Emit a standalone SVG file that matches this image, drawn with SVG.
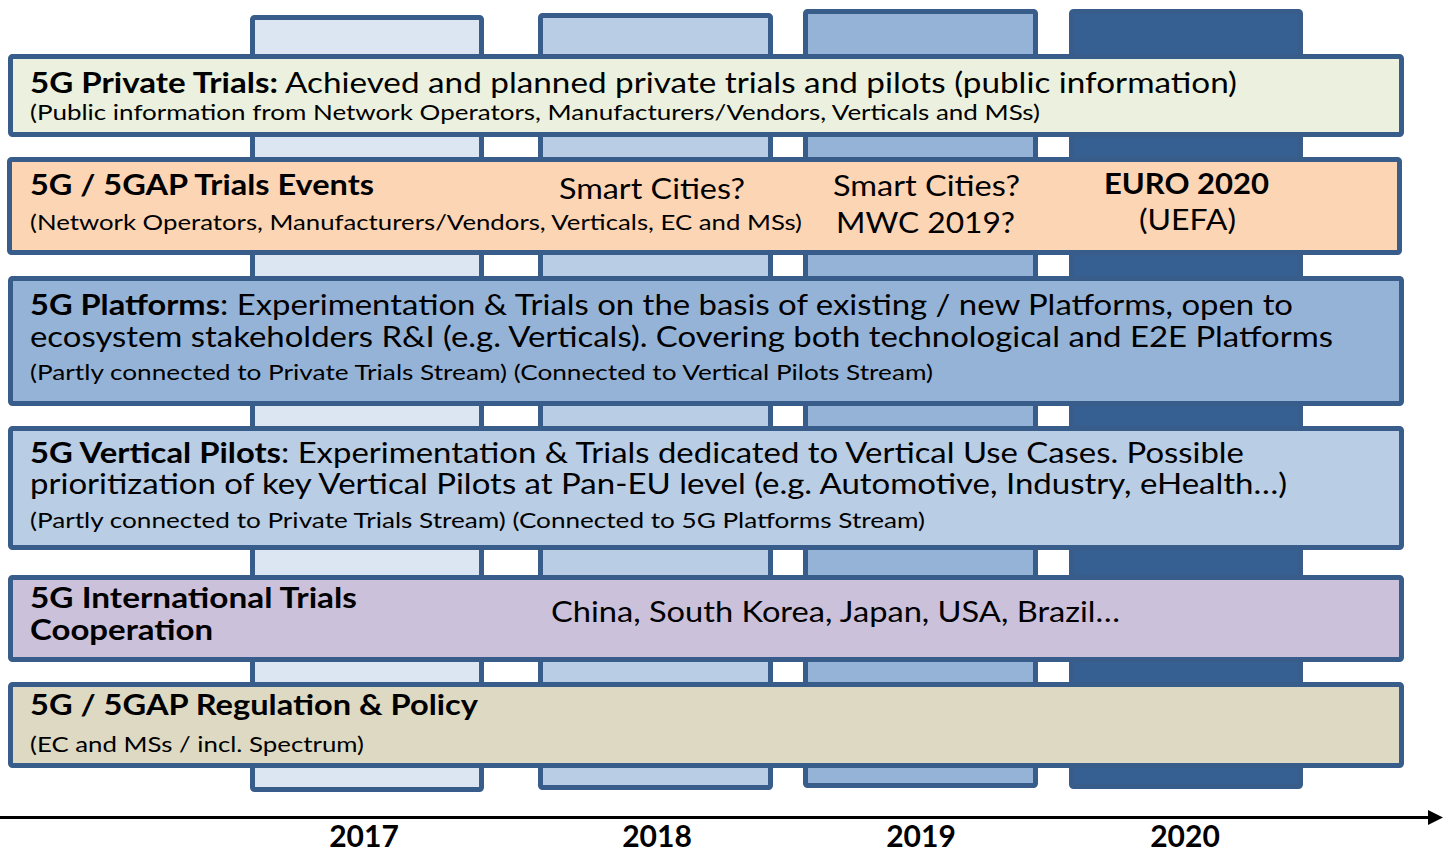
<svg xmlns="http://www.w3.org/2000/svg" width="1443" height="854" viewBox="0 0 1443 854">
<style>
.col{stroke:#385d8a;stroke-width:5}
.row{stroke:#385d8a;stroke-width:5}
text{font-family:Lato,"Open Sans","Liberation Sans",sans-serif;fill:#000}
.b{font-weight:bold}
.m{font-size:28px}
.s{font-size:21px}
.y{font-size:30px;font-weight:bold;text-anchor:middle}
</style>
<rect width="1443" height="854" fill="#fff"/>
<g id="columns">
<rect id="col2017" class="col" x="252.5" y="17.5" width="229" height="772" rx="2" fill="#dce6f2"/>
<rect id="col2018" class="col" x="540.5" y="15.5" width="230" height="772" rx="2" fill="#b9cde5"/>
<rect id="col2019" class="col" x="805.5" y="11.5" width="230" height="774" rx="2" fill="#95b3d7"/>
<rect id="col2020" class="col" x="1071.5" y="11.5" width="229" height="775" rx="2" fill="#376092"/>
</g>
<g id="row1">
<rect class="row" x="10.5" y="56.5" width="1391" height="78" rx="2" fill="#ebf1de"/>
<text class="m b" x="30" y="93" textLength="248" lengthAdjust="spacingAndGlyphs">5G Private Trials:</text>
<text class="m" x="285" y="93" textLength="952" lengthAdjust="spacingAndGlyphs">Achieved and planned private trials and pilots (public information)</text>
<text class="s" x="30" y="120" textLength="1010" lengthAdjust="spacingAndGlyphs">(Public information from Network Operators, Manufacturers/Vendors, Verticals and MSs)</text>
</g>
<g id="row2">
<rect class="row" x="9.5" y="159.5" width="1390" height="93" rx="2" fill="#fcd5b5"/>
<text class="m b" x="30" y="195" textLength="344" lengthAdjust="spacingAndGlyphs">5G / 5GAP Trials Events</text>
<text class="s" x="30" y="230" textLength="772" lengthAdjust="spacingAndGlyphs">(Network Operators, Manufacturers/Vendors, Verticals, EC and MSs)</text>
<text class="m" x="559" y="199" textLength="186" lengthAdjust="spacingAndGlyphs">Smart Cities?</text>
<text class="m" x="833" y="196" textLength="187" lengthAdjust="spacingAndGlyphs">Smart Cities?</text>
<text class="m" x="836" y="233" textLength="179" lengthAdjust="spacingAndGlyphs">MWC 2019?</text>
<text class="m b" x="1104" y="194" textLength="165" lengthAdjust="spacingAndGlyphs">EURO 2020</text>
<text class="m" x="1139" y="230" textLength="97" lengthAdjust="spacingAndGlyphs">(UEFA)</text>
</g>
<g id="row3">
<rect class="row" x="10.5" y="278.5" width="1391" height="125" rx="2" fill="#95b3d7"/>
<text class="m b" x="30" y="315" textLength="190" lengthAdjust="spacingAndGlyphs">5G Platforms</text>
<text class="m" x="220" y="315" textLength="1073" lengthAdjust="spacingAndGlyphs">: Experimentation &amp; Trials on the basis of existing / new Platforms, open to</text>
<text class="m" x="30" y="347" textLength="1303" lengthAdjust="spacingAndGlyphs">ecosystem stakeholders R&amp;I (e.g. Verticals). Covering both technological and E2E Platforms</text>
<text class="s" x="30" y="380" textLength="903" lengthAdjust="spacingAndGlyphs">(Partly connected to Private Trials Stream) (Connected to Vertical Pilots Stream)</text>
</g>
<g id="row4">
<rect class="row" x="10.5" y="428.5" width="1391" height="119" rx="2" fill="#b9cde5"/>
<text class="m b" x="30" y="463" textLength="251" lengthAdjust="spacingAndGlyphs">5G Vertical Pilots</text>
<text class="m" x="281" y="463" textLength="963" lengthAdjust="spacingAndGlyphs">: Experimentation &amp; Trials dedicated to Vertical Use Cases. Possible</text>
<text class="m" x="30" y="494" textLength="1257" lengthAdjust="spacingAndGlyphs">prioritization of key Vertical Pilots at Pan-EU level (e.g. Automotive, Industry, eHealth…)</text>
<text class="s" x="30" y="528" textLength="895" lengthAdjust="spacingAndGlyphs">(Partly connected to Private Trials Stream) (Connected to 5G Platforms Stream)</text>
</g>
<g id="row5">
<rect class="row" x="10.5" y="577.5" width="1391" height="82" rx="2" fill="#ccc1da"/>
<text class="m b" x="30" y="608" textLength="327" lengthAdjust="spacingAndGlyphs">5G International Trials</text>
<text class="m b" x="30" y="640" textLength="183" lengthAdjust="spacingAndGlyphs">Cooperation</text>
<text class="m" x="551" y="622" textLength="569" lengthAdjust="spacingAndGlyphs">China, South Korea, Japan, USA, Brazil…</text>
</g>
<g id="row6">
<rect class="row" x="10.5" y="684.5" width="1391" height="81" rx="2" fill="#ddd9c3"/>
<text class="m b" x="30" y="715" textLength="448" lengthAdjust="spacingAndGlyphs">5G / 5GAP Regulation &amp; Policy</text>
<text class="s" x="30" y="752" textLength="334" lengthAdjust="spacingAndGlyphs">(EC and MSs / incl. Spectrum)</text>
</g>
<g id="connectors">
<line x1="0" y1="817.5" x2="1430" y2="817.5" stroke="#000" stroke-width="3"/>
<polygon points="1428,810 1443,817.5 1428,825" fill="#000"/>
</g>
<g id="years">
<text class="y" x="364" y="847">2017</text>
<text class="y" x="657" y="847">2018</text>
<text class="y" x="921" y="847">2019</text>
<text class="y" x="1185" y="847">2020</text>
</g>
</svg>
